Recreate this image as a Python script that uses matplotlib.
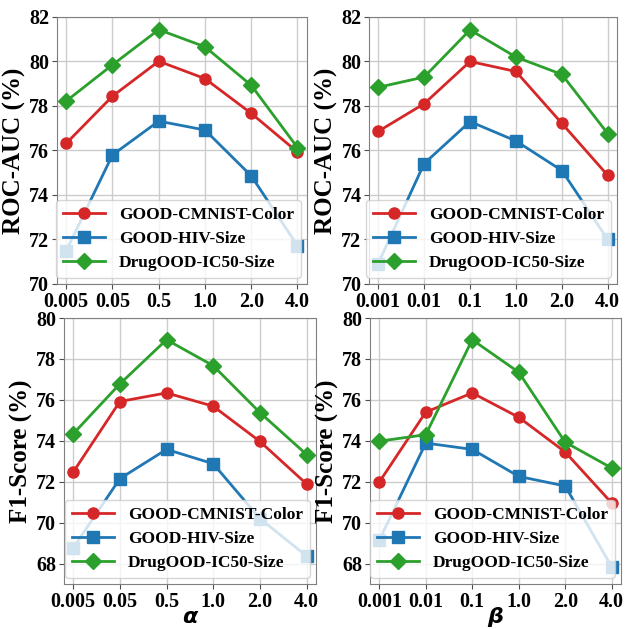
import matplotlib
matplotlib.use("Agg")
import matplotlib.pyplot as plt

plt.rcParams['font.family'] = ['Liberation Serif', 'DejaVu Serif']
plt.rcParams['font.weight'] = 'bold'

alpha_ticks = ["0.005", "0.05", "0.5", "1.0", "2.0", "4.0"]
beta_ticks = ["0.001", "0.01", "0.1", "1.0", "2.0", "4.0"]
series_names = ["GOOD-CMNIST-Color", "GOOD-HIV-Size", "DrugOOD-IC50-Size"]

# ROC-AUC vs alpha
auc_alpha_cmnist = [76.32, 78.44, 80.01, 79.23, 77.67, 75.93]
auc_alpha_hiv = [71.49, 75.80, 77.32, 76.92, 74.86, 71.72]
auc_alpha_drug = [78.22, 79.85, 81.43, 80.66, 78.93, 76.13]

# ROC-AUC vs beta
auc_beta_cmnist = [76.86, 78.10, 80.00, 79.55, 77.22, 74.88]
auc_beta_hiv = [70.92, 75.41, 77.30, 76.43, 75.10, 72.00]
auc_beta_drug = [78.84, 79.30, 81.42, 80.20, 79.42, 76.76]

# F1 vs alpha
f1_alpha_cmnist = [72.47, 75.92, 76.34, 75.69, 73.97, 71.89]
f1_alpha_hiv = [68.76, 72.15, 73.58, 72.88, 70.20, 68.37]
f1_alpha_drug = [74.34, 76.78, 78.94, 77.67, 75.38, 73.33]

# F1 vs beta
f1_beta_cmnist = [71.98, 75.40, 76.34, 75.15, 73.45, 70.96]
f1_beta_hiv = [69.14, 73.89, 73.58, 72.26, 71.79, 67.84]
f1_beta_drug = [73.98, 74.30, 78.94, 77.35, 73.93, 72.67]

colors = ['#d62728', '#1f77b4', '#2ca02c']
markers = ['o', 's', 'D']


def draw_panel(ax, ticks, series, ylabel, ylim, yticks, xlabel=None):
    x = list(range(len(ticks)))
    for vals, name, c, m in zip(series, series_names, colors, markers):
        ax.plot(x, vals, color=c, marker=m, markersize=8, linewidth=2, label=name)
    ax.set_xlim(-0.2, len(ticks) - 0.8)
    ax.set_ylim(*ylim)
    ax.set_yticks(yticks)
    ax.set_xticks(x)
    ax.set_xticklabels(ticks)
    ax.tick_params(labelsize=14.5, color='0.3', pad=2)
    for lab in ax.get_xticklabels() + ax.get_yticklabels():
        lab.set_fontweight('bold')
    ax.grid(True, color='0.8', linewidth=1)
    ax.set_axisbelow(True)
    for sp in ax.spines.values():
        sp.set_color('0.5')
    ax.set_ylabel(ylabel, fontsize=18, fontweight='bold', labelpad=2)
    if xlabel:
        ax.set_xlabel(xlabel, fontsize=16, fontweight='bold', fontstyle='italic',
                      family='DejaVu Sans', labelpad=-3)
    ax.legend(loc='lower right', prop={'size': 12.5, 'weight': 'bold'},
              borderaxespad=0.35, handlelength=2.4, labelspacing=0.45)


fig = plt.figure(figsize=(6.26, 6.29), dpi=100)
ax1 = fig.add_axes([0.091, 0.5485, 0.399, 0.4245])
ax2 = fig.add_axes([0.5895, 0.5485, 0.396, 0.4245])
ax3 = fig.add_axes([0.102, 0.0715, 0.4026, 0.4229])
ax4 = fig.add_axes([0.591, 0.0715, 0.401, 0.4229])

draw_panel(ax1, alpha_ticks, [auc_alpha_cmnist, auc_alpha_hiv, auc_alpha_drug],
           "ROC-AUC (%)", (70, 82), range(70, 83, 2))
draw_panel(ax2, beta_ticks, [auc_beta_cmnist, auc_beta_hiv, auc_beta_drug],
           "ROC-AUC (%)", (70, 82), range(70, 83, 2))
draw_panel(ax3, alpha_ticks, [f1_alpha_cmnist, f1_alpha_hiv, f1_alpha_drug],
           "F1-Score (%)", (67, 80), range(68, 81, 2), xlabel="α")
draw_panel(ax4, beta_ticks, [f1_beta_cmnist, f1_beta_hiv, f1_beta_drug],
           "F1-Score (%)", (67, 80), range(68, 81, 2), xlabel="β")

fig.savefig("out.png", dpi=100)
